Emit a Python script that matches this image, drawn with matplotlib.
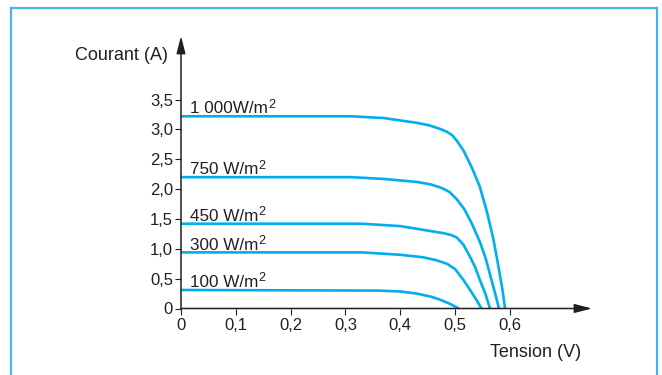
import matplotlib
matplotlib.use("Agg")
import matplotlib.pyplot as plt
from matplotlib.lines import Line2D

plt.rcParams['font.family'] = ['Liberation Sans', 'DejaVu Sans']

# I-V characteristics of a solar cell for several irradiance levels
v_1000 = [0, 0.31, 0.37, 0.43, 0.452, 0.472, 0.485, 0.495, 0.503, 0.515, 0.530, 0.545, 0.558, 0.570, 0.580, 0.586, 0.591]
i_1000 = [3.22, 3.22, 3.19, 3.11, 3.07, 3.01, 2.96, 2.90, 2.81, 2.65, 2.37, 2.04, 1.62, 1.15, 0.65, 0.33, 0]

v_750 = [0, 0.31, 0.37, 0.43, 0.455, 0.472, 0.482, 0.490, 0.503, 0.517, 0.530, 0.545, 0.556, 0.565, 0.573, 0.580]
i_750 = [2.20, 2.20, 2.17, 2.12, 2.08, 2.03, 1.99, 1.95, 1.83, 1.66, 1.43, 1.12, 0.83, 0.52, 0.25, 0]

v_450 = [0, 0.33, 0.40, 0.46, 0.48, 0.493, 0.503, 0.515, 0.527, 0.537, 0.545, 0.555, 0.5635]
i_450 = [1.42, 1.42, 1.38, 1.29, 1.26, 1.23, 1.19, 1.07, 0.87, 0.68, 0.48, 0.25, 0]

v_300 = [0, 0.33, 0.40, 0.44, 0.465, 0.485, 0.500, 0.515, 0.528, 0.539, 0.548]
i_300 = [0.94, 0.94, 0.90, 0.86, 0.81, 0.75, 0.66, 0.48, 0.30, 0.14, 0]

v_100 = [0, 0.36, 0.40, 0.43, 0.455, 0.472, 0.490, 0.507]
i_100 = [0.31, 0.30, 0.285, 0.25, 0.20, 0.15, 0.08, 0]

series_v = [v_1000, v_750, v_450, v_300, v_100]
series_i = [i_1000, i_750, i_450, i_300, i_100]
series_labels = ['1 000W/m', '750 W/m', '450 W/m', '300 W/m', '100 W/m']
unit_exponent = '2'

x_ticks = [0, 0.1, 0.2, 0.3, 0.4, 0.5, 0.6]
x_tick_labels = ['0', '0,1', '0,2', '0,3', '0,4', '0,5', '0,6']
y_ticks = [0, 0.5, 1.0, 1.5, 2.0, 2.5, 3.0, 3.5]
y_tick_labels = ['0', '0,5', '1,0', '1,5', '2,0', '2,5', '3,0', '3,5']

W, H = 662, 375
curve_color = '#00aeef'
frame_color = '#45b6e6'
ink = '#231f20'

fig = plt.figure(figsize=(W / 100, H / 100), dpi=100)
fig.patch.set_facecolor('white')

# open frame around the figure (no bottom edge)
fx0, fx1, fy0 = 11 / W, 657 / W, 1 - 7.5 / H
for xs, ys in [([fx0, fx0], [0, fy0]), ([fx0, fx1], [fy0, fy0]), ([fx1, fx1], [fy0, 0])]:
    fig.add_artist(Line2D(xs, ys, transform=fig.transFigure, color=frame_color, lw=1.6))

left, right = 181 / W, 592 / W
bottom, top = 1 - 308.5 / H, 1 - 36 / H
ax = fig.add_axes([left, bottom, right - left, top - bottom])
ax.set_xlim(0, (592 - 181) / 548.3)
ax.set_ylim(0, (308.5 - 36) / 59.7)
ax.set_facecolor('none')
for s in ax.spines.values():
    s.set_visible(False)

# axes drawn as arrows
arrow_kw = dict(arrowstyle='-|>,head_length=1.05,head_width=0.27', mutation_scale=10,
                color=ink, lw=1.1, shrinkA=0, shrinkB=0)
ax.annotate('', xy=(1, 0), xytext=(0, 0), xycoords='axes fraction',
            arrowprops=arrow_kw, annotation_clip=False)
ax.annotate('', xy=(0, 1), xytext=(0, 0), xycoords='axes fraction',
            arrowprops=arrow_kw, annotation_clip=False)

label_size = 12.3
for v, i, lab in zip(series_v, series_i, series_labels):
    ax.plot(v, i, color=curve_color, lw=1.9, solid_joinstyle='round',
            solid_capstyle='butt', clip_on=False)
    main = ax.annotate(lab, xy=(0.0165, i[0]), xytext=(0, 2.0), textcoords='offset points',
                       ha='left', va='baseline', fontsize=label_size, color=ink)
    # raised exponent right after the unit
    ax.annotate(unit_exponent, xy=(1, 0), xycoords=main, xytext=(0.1, 6.3),
                textcoords='offset points', ha='left', va='baseline',
                fontsize=label_size * 0.74, color=ink)

ax.set_xticks(x_ticks)
ax.set_xticklabels(x_tick_labels)
ax.set_yticks(y_ticks)
ax.set_yticklabels(y_tick_labels)
ax.tick_params(axis='both', direction='out', length=4, width=0.8, color=ink,
               labelcolor=ink, labelsize=12)
ax.tick_params(axis='x', pad=3.0)
ax.tick_params(axis='y', pad=1.8)

fig.text(168 / W, 1 - 56 / H, 'Courant (A)', ha='right', va='center',
         fontsize=13, color=ink)
fig.text(581 / W, 1 - 352.5 / H, 'Tension (V)', ha='right', va='center',
         fontsize=13, color=ink)

fig.savefig('out.png', dpi=100, facecolor='white')
